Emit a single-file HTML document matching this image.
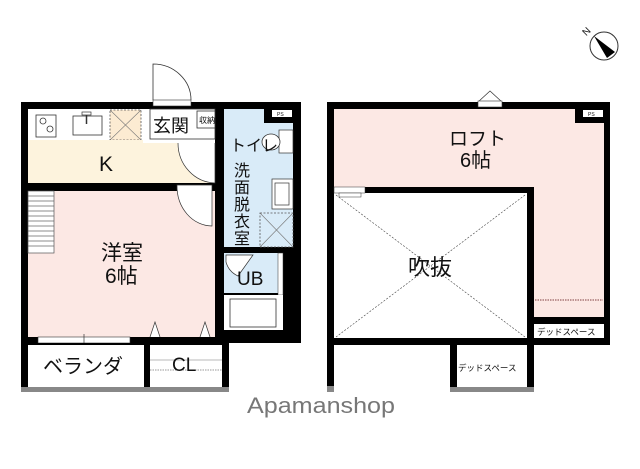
<!DOCTYPE html>
<html><head><meta charset="utf-8"><style>
body{margin:0;background:#fff;width:640px;height:469px;overflow:hidden}
svg{display:block}
text{font-family:"Liberation Sans","Noto Sans CJK JP",sans-serif;fill:#111}
</style></head><body>
<svg width="640" height="469" viewBox="0 0 640 469" xmlns="http://www.w3.org/2000/svg">
<!-- LEFT PLAN -->
<rect x="21" y="102" width="280" height="241" fill="#000"/>
<rect x="28" y="109" width="115" height="31" fill="#fff"/>
<rect x="110" y="110" width="31" height="30" fill="#fcebd2" stroke="#555" stroke-dasharray="2,1.5" stroke-width="0.8"/>
<line x1="110" y1="110" x2="141" y2="140" stroke="#777" stroke-width="0.6"/>
<line x1="141" y1="110" x2="110" y2="140" stroke="#777" stroke-width="0.6"/>
<rect x="36" y="115" width="20" height="22" fill="#fff" stroke="#333" stroke-width="0.8"/>
<circle cx="43" cy="121" r="3" fill="none" stroke="#333" stroke-width="0.8"/>
<circle cx="50" cy="129" r="3" fill="none" stroke="#333" stroke-width="0.8"/>
<rect x="73" y="116" width="29" height="19" fill="#fff" stroke="#333" stroke-width="0.8"/>
<rect x="82" y="112" width="9" height="3" fill="#fff" stroke="#333" stroke-width="0.7"/>
<line x1="86.5" y1="115" x2="86.5" y2="124" stroke="#333" stroke-width="1.5"/>
<rect x="28" y="140" width="187" height="43" fill="#fdf3dd"/>
<rect x="143" y="109" width="72" height="34" fill="#fff"/>
<rect x="150" y="109" width="65" height="30" fill="#fff" stroke="#333" stroke-width="0.8"/>
<rect x="197" y="111" width="18" height="17" fill="#fff" stroke="#333" stroke-width="0.8"/>
<text x="199" y="123" font-size="8">収納</text>
<text x="153" y="132" font-size="18">玄関</text>
<rect x="153" y="100" width="38" height="6" fill="#fff" stroke="#333" stroke-width="0.6"/>
<path d="M153 100 V64 A38 36 0 0 1 191 100" fill="none" stroke="#333" stroke-width="0.8"/>
<path d="M215 143 V183 A38 40 0 0 1 178 143" fill="#fff" stroke="#333" stroke-width="0.7"/>
<text x="99" y="171" font-size="21">K</text>
<rect x="28" y="191" width="187" height="146" fill="#fce8e4"/>
<rect x="28" y="191" width="26" height="62" fill="#fff" stroke="#555" stroke-width="0.7"/>
<g stroke="#666" stroke-width="0.7">
<line x1="28" y1="196" x2="54" y2="196"/><line x1="28" y1="201" x2="54" y2="201"/><line x1="28" y1="206" x2="54" y2="206"/><line x1="28" y1="211" x2="54" y2="211"/><line x1="28" y1="216" x2="54" y2="216"/><line x1="28" y1="221" x2="54" y2="221"/><line x1="28" y1="226" x2="54" y2="226"/><line x1="28" y1="231" x2="54" y2="231"/><line x1="28" y1="236" x2="54" y2="236"/><line x1="28" y1="241" x2="54" y2="241"/><line x1="28" y1="246" x2="54" y2="246"/>
</g>
<path d="M177 185 H212 V226 A35 40 0 0 1 177 185 Z" fill="#fff" stroke="#333" stroke-width="0.7"/>
<text x="101" y="260" font-size="21">洋室</text>
<text x="105" y="283" font-size="21">6帖</text>
<path d="M150 337 L155 322 L160 337" fill="#fff" stroke="#333" stroke-width="0.7"/>
<path d="M200 337 L205 322 L210 337" fill="#fff" stroke="#333" stroke-width="0.7"/>
<rect x="224" y="109" width="69" height="138" fill="#d9ebf8"/>
<rect x="264" y="109" width="29" height="14" fill="#000"/>
<rect x="272" y="110" width="20" height="7" fill="#fff"/>
<text x="277" y="116" font-size="5">PS</text>
<rect x="279" y="130" width="14" height="23" fill="#fff" stroke="#333" stroke-width="0.7"/>
<ellipse cx="271" cy="142" rx="9" ry="8" fill="#fff" stroke="#333" stroke-width="0.8"/>
<text x="230" y="151" font-size="16">トイレ</text>
<rect x="272" y="179" width="21" height="30" fill="#fff" stroke="#333" stroke-width="0.7"/>
<rect x="275" y="183" width="14" height="22" fill="#fff" stroke="#333" stroke-width="0.7"/>
<rect x="260" y="213" width="33" height="34" fill="none" stroke="#555" stroke-dasharray="2,1.5" stroke-width="0.8"/>
<line x1="260" y1="213" x2="293" y2="247" stroke="#777" stroke-width="0.6"/>
<line x1="293" y1="213" x2="260" y2="247" stroke="#777" stroke-width="0.6"/>
<text font-size="16"><tspan x="234" y="176">洗</tspan><tspan x="234" y="193">面</tspan><tspan x="234" y="210">脱</tspan><tspan x="234" y="227">衣</tspan><tspan x="234" y="244">室</tspan></text>
<rect x="224" y="253" width="54" height="40" fill="#d9ebf8"/>
<rect x="278" y="253" width="5" height="42" fill="#fff" stroke="#333" stroke-width="0.5"/>
<rect x="224" y="295" width="59" height="35" fill="#fff"/>
<rect x="230" y="299" width="46" height="28" fill="#fff" stroke="#333" stroke-width="0.8"/>
<path d="M226 255 H253 L238 276 A22 22 0 0 1 226 262 Z" fill="#fff" stroke="#333" stroke-width="0.7"/>
<text x="237" y="285" font-size="19">UB</text>
<rect x="38" y="337" width="92" height="6" fill="#fff" stroke="#333" stroke-width="0.6"/>
<line x1="84" y1="334" x2="84" y2="346" stroke="#333" stroke-width="0.7"/>
<rect x="21" y="343" width="208" height="48" fill="#000"/>
<rect x="28" y="345" width="116" height="43" fill="#fff"/>
<rect x="150" y="345" width="72" height="43" fill="#fff"/>
<rect x="21" y="387" width="208" height="5" fill="#888"/>
<line x1="150" y1="360" x2="222" y2="360" stroke="#777" stroke-width="0.6"/>
<line x1="150" y1="370" x2="222" y2="370" stroke="#777" stroke-width="0.8" stroke-dasharray="1.5,1"/>
<text x="43" y="373" font-size="20">ベランダ</text>
<text x="172" y="371" font-size="19">CL</text>

<!-- RIGHT PLAN -->
<rect x="327" y="102" width="283" height="243" fill="#000"/>
<rect x="334" y="109" width="270" height="78" fill="#fce8e4"/>
<rect x="534" y="187" width="70" height="130" fill="#fce8e4"/>
<rect x="575" y="109" width="29" height="14" fill="#000"/>
<rect x="583" y="110" width="20" height="7" fill="#fff"/>
<text x="588" y="116" font-size="5">PS</text>
<line x1="535" y1="300" x2="603" y2="300" stroke="#a77" stroke-width="1.5" stroke-dasharray="1.5,1"/>
<rect x="534" y="324" width="70" height="14" fill="#fff"/>
<text x="537" y="335" font-size="8.5">デッドスペース</text>
<rect x="334" y="193" width="193" height="145" fill="#fff"/>
<rect x="334" y="187" width="31" height="6" fill="#fff" stroke="#333" stroke-width="0.5"/>
<rect x="339" y="193" width="22" height="4" fill="#fff" stroke="#333" stroke-width="0.5"/>
<line x1="336" y1="195" x2="525" y2="337" stroke="#444" stroke-width="0.6" stroke-dasharray="2,1.5"/>
<line x1="525" y1="195" x2="336" y2="337" stroke="#444" stroke-width="0.6" stroke-dasharray="2,1.5"/>
<path d="M478 102 L490 91 L502 102" fill="#fff" stroke="#333" stroke-width="0.7"/>
<rect x="478" y="101" width="24" height="6" fill="#fff" stroke="#333" stroke-width="0.6"/>
<text x="449" y="145" font-size="19">ロフト</text>
<text x="460" y="167" font-size="20">6帖</text>
<text x="408" y="275" font-size="22">吹抜</text>
<rect x="327" y="345" width="7" height="47" fill="#000"/>
<rect x="327" y="386" width="7" height="6" fill="#888"/>
<rect x="450" y="345" width="84" height="47" fill="#000"/>
<rect x="457" y="345" width="70" height="43" fill="#fff"/>
<rect x="450" y="387" width="84" height="5" fill="#888"/>
<text x="458" y="371" font-size="8.5">デッドスペース</text>

<text x="247" y="413" font-size="22" textLength="148" lengthAdjust="spacingAndGlyphs" style="fill:#777">Apamanshop</text>

<circle cx="604" cy="46" r="14" fill="#fff" stroke="#333" stroke-width="1"/>
<path d="M594 36 L615 52 L607 58 Z" fill="#000"/>
<text x="582" y="34" font-size="10" transform="rotate(-45 587 30)">N</text>
</svg>
</body></html>
